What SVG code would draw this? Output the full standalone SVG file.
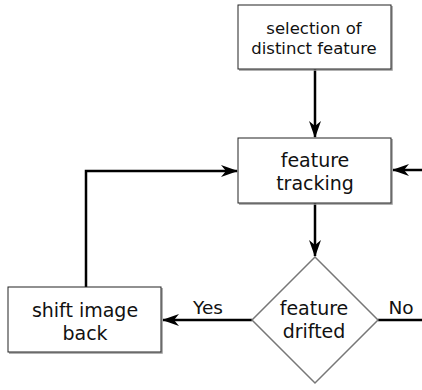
<svg xmlns="http://www.w3.org/2000/svg" width="422" height="390" viewBox="0 0 422 390">
<style>
.box{fill:#fff;stroke:#222;stroke-width:1}
.sh{fill:none;stroke:#999;stroke-width:1.5}
.dia{fill:#fff;stroke:#777;stroke-width:1.5}
.t{font-family:"DejaVu Sans",sans-serif;fill:#111;text-anchor:middle}
.c{fill:none;stroke:#000;stroke-width:2.5}
</style>
<defs>
<marker id="a" viewBox="0 0 17 12" refX="16" refY="6" markerWidth="17" markerHeight="12" markerUnits="userSpaceOnUse" orient="auto">
<path d="M0,0 L17,6 L0,12 L5,6 Z" fill="#000"/>
</marker>
</defs>
<g id="connectors">
<path class="c" d="M315,69 V137" marker-end="url(#a)"/>
<path class="c" d="M315,203 V256" marker-end="url(#a)"/>
<path class="c" d="M252,320 H163" marker-end="url(#a)"/>
<path class="c" d="M378,320 H422"/>
<path class="c" d="M422,170 H393" marker-end="url(#a)"/>
<path class="c" d="M86,287 V171 H237" marker-end="url(#a)"/>
<text class="t" x="208" y="314" font-size="18.5">Yes</text>
<text class="t" x="401" y="314" font-size="18.5">No</text>
</g>
<g id="n1">
<path class="sh" d="M392,6 V70 H239"/>
<rect class="box" x="238" y="5" width="153" height="64"/>
<text class="t" x="314" y="34" font-size="16.5">selection of</text>
<text class="t" x="314" y="54" font-size="16.5">distinct feature</text>
</g>
<g id="n2">
<path class="sh" d="M392,139 V204 H239"/>
<rect class="box" x="238" y="138" width="153" height="65"/>
<text class="t" x="315" y="167" font-size="19">feature</text>
<text class="t" x="315" y="190" font-size="19">tracking</text>
</g>
<g id="n3">
<path class="sh" d="M162,288 V353 H9"/>
<rect class="box" x="8" y="287" width="153" height="65"/>
<text class="t" x="85" y="317" font-size="19">shift image</text>
<text class="t" x="85" y="340" font-size="19">back</text>
</g>
<g id="n4">
<path class="dia" d="M315,257 L378,320 L315,383 L252,320 Z"/>
<text class="t" x="314" y="315" font-size="19">feature</text>
<text class="t" x="314" y="338" font-size="19">drifted</text>
</g>
</svg>
